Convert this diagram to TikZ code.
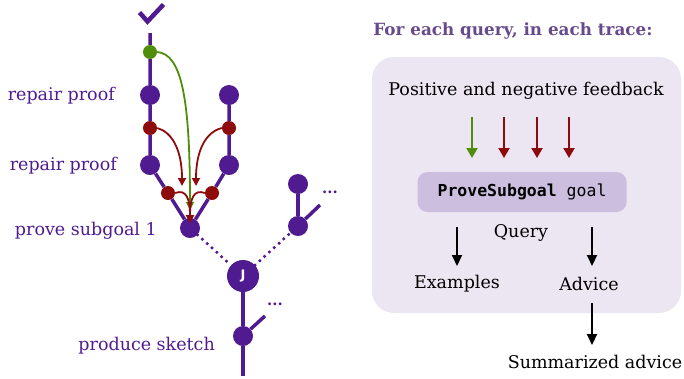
\documentclass[tikz,border=0pt]{standalone}
\usepackage{fontspec}
\setmainfont{DejaVu Serif}
\setmonofont{DejaVu Sans Mono}
\setsansfont{DejaVu Sans}
\usetikzlibrary{arrows.meta}
\definecolor{tpurple}{HTML}{501B91}
\definecolor{tred}{HTML}{8E0B0B}
\definecolor{tgreen}{HTML}{4E8E0A}
\definecolor{ttitle}{HTML}{674A8C}
\definecolor{boxbg}{HTML}{ECE6F3}
\definecolor{querybg}{HTML}{CCBEDF}
\begin{document}
\begin{tikzpicture}[x=1pt,y=-1pt,
  tree/.style={draw=tpurple, line width=3.5pt},
  pnode/.style={circle, fill=tpurple, inner sep=0pt, minimum size=20pt},
  rnode/.style={circle, fill=tred, inner sep=0pt, minimum size=14pt},
  gnode/.style={circle, fill=tgreen, inner sep=0pt, minimum size=14pt},
  jnode/.style={circle, fill=tpurple, inner sep=0pt, minimum size=32pt, text=white, font=\sffamily\bfseries\fontsize{13}{13}\selectfont},
  lab/.style={text=tpurple, font=\fontsize{17.5}{20}\selectfont, anchor=east, inner sep=0pt},
  moredots/.style={text=tpurple, font=\bfseries\fontsize{15}{15}\selectfont, inner sep=0pt},
  dotline/.style={draw=tpurple, line width=3.5pt, line cap=round, dash pattern=on 0pt off 6.5pt},
  redarr/.style={draw=tred, line width=1.8pt, -{Triangle[length=8pt,width=8pt]}},
  greenarr/.style={draw=tgreen, line width=1.8pt, -{Triangle[length=8pt,width=8pt]}},
  redfb/.style={draw=tred, line width=2pt, -{Triangle[length=10pt,width=11pt]}},
  greenfb/.style={draw=tgreen, line width=2pt, -{Triangle[length=10pt,width=11pt]}},
  blackarr/.style={draw=black, line width=2pt, -{Triangle[length=11pt,width=10pt]}},
  txt/.style={font=\fontsize{17.5}{20}\selectfont, inner sep=0pt},
]
\useasboundingbox (0,0) rectangle (684,378);

% ---------- left: tree ----------
\coordinate (top) at (150,33);
\node[gnode] (g) at (150,52) {};
\node[pnode] (a1) at (150,95) {};
\node[rnode] (r1) at (150,128) {};
\node[pnode] (a2) at (150,165) {};
\node[rnode] (rl) at (168,193) {};
\node[pnode] (s1) at (190,228) {};
\node[pnode] (b1) at (229,95) {};
\node[rnode] (r2) at (229,128) {};
\node[pnode] (b2) at (229,165) {};
\node[rnode] (rr) at (212,193) {};
\node[jnode] (J) at (243,276) {J};
\node[pnode] (c1) at (298,184) {};
\node[pnode] (c2) at (298,226) {};
\node[pnode] (sk) at (243,336) {};
\coordinate (bot) at (243,376);
\coordinate (c2tip) at (320,205);
\coordinate (sktip) at (265,316);

\draw[tree] (top) -- (g) -- (a1) -- (r1) -- (a2) -- (rl) -- (s1);
\draw[tree] (b1) -- (r2) -- (b2) -- (rr) -- (s1);
\draw[tree] (c1) -- (c2);
\draw[tree] (c2) -- (c2tip);
\draw[tree] (J) -- (sk) -- (bot);
\draw[tree] (sk) -- (sktip);
\draw[dotline] (s1) -- (J);
\draw[dotline] (J) -- (c2);

\node[moredots] (d1) at (330,192) {...};
\node[moredots] (d2) at (275,304) {...};

% checkmark
\draw[tpurple, line width=4.5pt, line join=miter] (139.5,12.5) -- (147.5,21.5) -- (163.5,4.5);

% feedback arrows
\coordinate (gend) at (190,210);
\coordinate (r1end) at (182,186);
\coordinate (r2end) at (196,186);
\coordinate (lend) at (190,223);
\draw[greenarr] (g.east) .. controls (182,54) and (190,100) .. (gend);
\draw[redarr] (r1.east) .. controls (172,132) and (182,150) .. (r1end);
\draw[redarr] (r2.west) .. controls (206,132) and (196,150) .. (r2end);
\draw[redarr] (rl.east) .. controls (186,189) and (190,198) .. (lend);
\draw[redarr] (rr.west) .. controls (194,189) and (190,198) .. (lend);

\node[lab] (l1) at (115,96) {repair proof};
\node[lab] (l2) at (117,166) {repair proof};
\node[lab] (l3) at (157,231) {prove subgoal 1};
\node[lab] (l4) at (215,346) {produce sketch};

% ---------- right panel ----------
\node[text=ttitle, font=\bfseries\fontsize{16.8}{20}\selectfont, inner sep=0pt] (title) at (513,31) {For each query, in each trace:};
\fill[boxbg, rounded corners=22pt] (372,57) rectangle (681,313);
\node[txt] (fb) at (526,91) {Positive and negative feedback};

\coordinate (f1s) at (472,117); \coordinate (f1e) at (472,158);
\coordinate (f2s) at (504,117); \coordinate (f2e) at (504,158);
\coordinate (f3s) at (537,117); \coordinate (f3e) at (537,158);
\coordinate (f4s) at (569,117); \coordinate (f4e) at (569,158);
\draw[greenfb] (f1s) -- (f1e);
\draw[redfb] (f2s) -- (f2e);
\draw[redfb] (f3s) -- (f3e);
\draw[redfb] (f4s) -- (f4e);

\node[fill=querybg, rounded corners=10pt, minimum width=209pt, minimum height=40pt, inner sep=0pt,
      font=\ttfamily\fontsize{16.5}{18}\selectfont] (q) at (522,192) {\textbf{ProveSubgoal} goal};
\node[txt] (query) at (521,233) {Query};

\node[txt] (ex) at (457,284) {Examples};
\node[txt] (adv) at (589,284) {Advice};
\node[txt] (sum) at (595,362) {Summarized advice};

\coordinate (e1s) at (457,227); \coordinate (e1e) at (457,266);
\coordinate (e2s) at (592,227); \coordinate (e2e) at (592,266);
\coordinate (e3s) at (592,303); \coordinate (e3e) at (592,345);
\draw[blackarr] (e1s) -- (e1e);
\draw[blackarr] (e2s) -- (e2e);
\draw[blackarr] (e3s) -- (e3e);
\end{tikzpicture}
\end{document}
